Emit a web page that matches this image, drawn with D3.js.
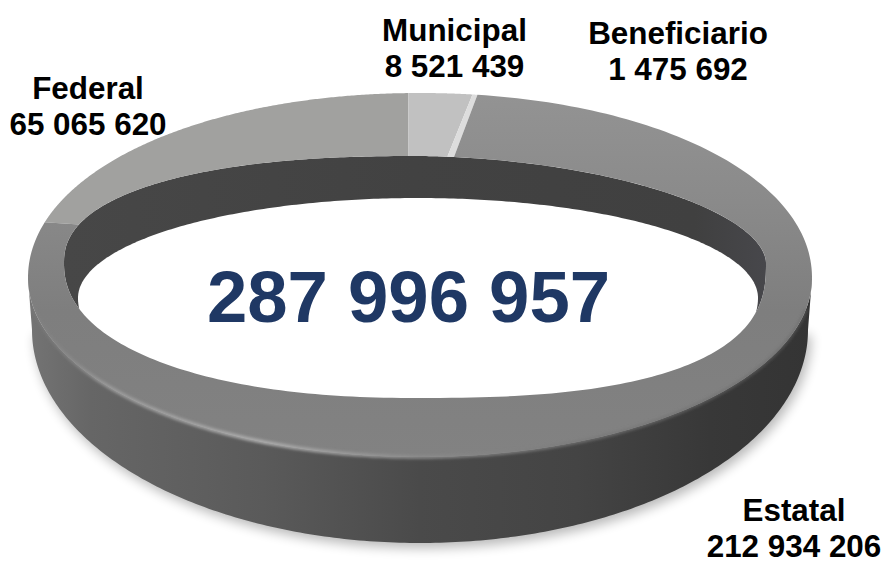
<!DOCTYPE html>
<html><head><meta charset="utf-8">
<script src="https://cdn.jsdelivr.net/npm/d3@7"></script>
<style>html,body{margin:0;padding:0;background:#fff}svg{display:block}text{font-family:"Liberation Sans",Arial,sans-serif;font-weight:700}</style>
</head><body><svg id="c" width="885" height="561"></svg>
<script>
const categories = ["Federal","Municipal","Beneficiario","Estatal"];
const values = [65065620,8521439,1475692,212934206];
const valueLabels = ["65 065 620","8 521 439","1 475 692","212 934 206"];
const totalLabel = "287 996 957";
const fills = ["#a1a19f","#c1c1c1","#dddddd","url(#estatalTop)"];
const labelX = [88,454.5,678,794];
const labelY = [99,41,44,521];

// n = [top-left, top-right, bottom-left, bottom-right] curve exponents
const outerRim = {cx:420,cy:278,rx:392,ryT:185,ryB:179,n:[2.05,2.05,2,2]};
const innerRim = {cx:415,cy:263,rx:351,ryT:107,ryB:135,n:[2.3,1.85,2.2,2.6]};
const holeRim  = {cx:418,cy:298,rx:340,ryT:100,ryB:130,n:[2,2,2,2]};
const baseRim  = {cx:420,cy:330,rx:388,ryT:213,ryB:213,n:[2,2,2,2]};

const deg = Math.PI/180;
const svg = d3.select("#c");
const pie = d3.pie().sort(null).startAngle(-83.3*deg).endAngle(276.7*deg);
const slices = pie(values);

// pie angle -> on-screen angle, as the ring is seen in perspective
const pieDomain = [-83.3,-2,8.65,10.5,276.7].map(d=>d*deg);
const outerAngle = d3.scaleLinear().domain(pieDomain).range([-73,-1.6,7.3,8,287].map(d=>d*deg));
const innerAngle = d3.scaleLinear().domain(pieDomain).range([-72,-0.6,6.3,7.5,288].map(d=>d*deg));

function pt(e,t){
  const s=Math.sin(t), c=Math.cos(t), up=c>0, right=s>0;
  const n=e.n[(up?0:2)+(right?1:0)], ry=up?e.ryT:e.ryB;
  return [e.cx+e.rx*Math.sign(s)*Math.pow(Math.abs(s),2/n),
          e.cy+(up?-1:1)*ry*Math.pow(Math.abs(c),2/n)];
}
const line = d3.line();
const sweep = (e,a,b,k=240)=>d3.range(k+1).map(i=>pt(e,a+(b-a)*i/k));
const closed = pts=>line(pts)+"Z";

const defs = svg.append("defs");
function grad(id,x1,y1,x2,y2,stops){
  const g=defs.append("linearGradient").attr("id",id).attr("gradientUnits","userSpaceOnUse")
    .attr("x1",x1).attr("y1",y1).attr("x2",x2).attr("y2",y2);
  stops.forEach(s=>g.append("stop").attr("offset",s[0]).attr("stop-color",s[1]).attr("stop-opacity",s[2]===undefined?1:s[2]));
}
function blur(id,sd){
  defs.append("filter").attr("id",id).attr("x","-10%").attr("y","-30%").attr("width","120%").attr("height","160%")
    .append("feGaussianBlur").attr("stdDeviation",sd);
}
grad("estatalTop",0,93,0,457,[[0,"#939393"],[.3,"#8a8a8a"],[.6,"#7e7e7e"],[1,"#828282"]]);
grad("side",28,0,812,0,[[0,"#747474"],[.08,"#666666"],[.3,"#5a5a5a"],[.5,"#4a4a4a"],[.7,"#444444"],[.87,"#383838"],[1,"#343434"]]);
grad("wall",64,0,765,0,[[0,"#474747"],[.5,"#424242"],[.9,"#404040"],[1,"#47474b"]]);
grad("rimGlow",28,0,812,0,[[0,"#858585",.2],[.1,"#a0a0a0",.9],[.3,"#b0b0b0",1],[.5,"#8c8c8c",1],[.72,"#787878",.8],[1,"#666666",.5]]);
blur("b1",1.5); blur("b2",6);

// soft shadow
svg.append("path").attr("d",closed(sweep(baseRim,90*deg,270*deg)))
  .attr("fill","#000").attr("opacity",.28).attr("transform","translate(3,5)").attr("filter","url(#b2)");
// outer side wall
svg.append("path").attr("d",closed(sweep(outerRim,90*deg,270*deg).concat(sweep(baseRim,270*deg,90*deg))))
  .attr("fill","url(#side)");
// inner wall and the hole
svg.append("path").attr("d",closed(sweep(innerRim,0,2*Math.PI,480))).attr("fill","url(#wall)");
svg.append("path").attr("d",closed(sweep(holeRim,0,2*Math.PI,480))).attr("fill","#fff");
// top surface slices
svg.selectAll("path.slice").data(slices).join("path").attr("class","slice")
  .attr("d",d=>closed(sweep(outerRim,outerAngle(d.startAngle),outerAngle(d.endAngle))
      .concat(sweep(innerRim,innerAngle(d.endAngle),innerAngle(d.startAngle)))))
  .attr("fill",(d,i)=>fills[i]);
// rim highlight
svg.append("path").attr("d",line(sweep(outerRim,100*deg,262*deg)))
  .attr("fill","none").attr("stroke","url(#rimGlow)").attr("stroke-width",3.5).attr("filter","url(#b1)");

// labels
const lab = svg.append("g").attr("text-anchor","middle").attr("fill","#000").attr("font-size",31.4);
categories.forEach((c,i)=>{
  lab.append("text").attr("x",labelX[i]).attr("y",labelY[i]).text(c);
  lab.append("text").attr("x",labelX[i]).attr("y",labelY[i]+36).text(valueLabels[i]);
});
svg.append("text").attr("x",408.5).attr("y",322).attr("text-anchor","middle")
  .attr("font-size",72.5).attr("fill","#1f3864").text(totalLabel);
</script></body></html>
